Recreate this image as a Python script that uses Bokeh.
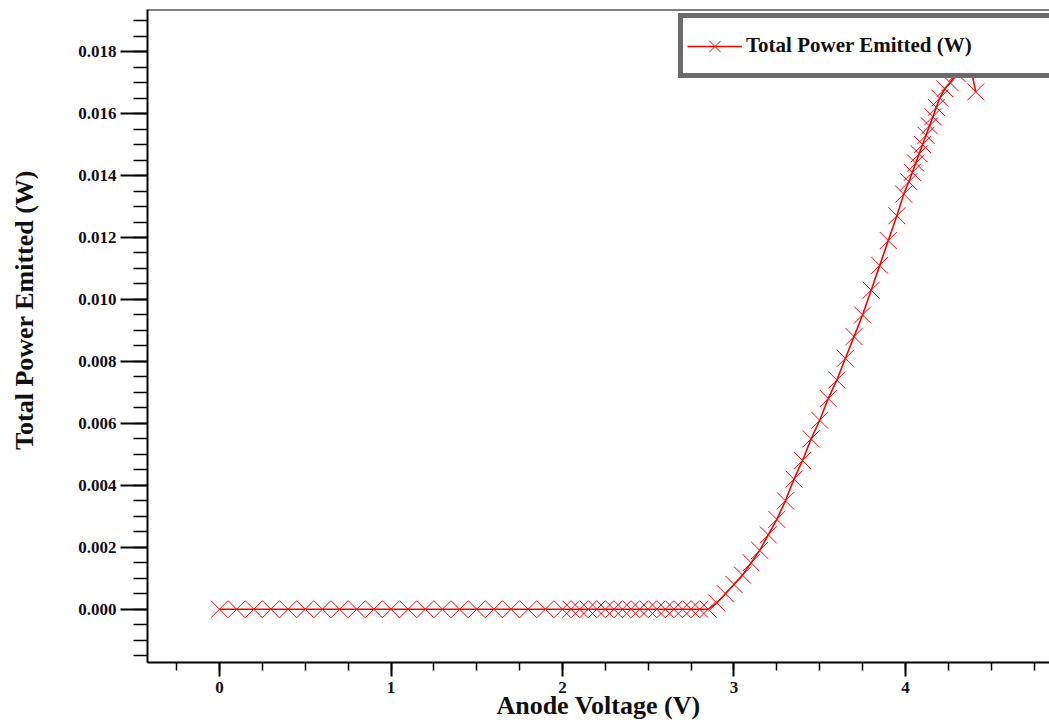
from bokeh.plotting import figure
from bokeh.models import Range1d, Span, Legend, LegendItem, FixedTicker, NumeralTickFormatter, ColumnDataSource
from bokeh.embed import file_html
from bokeh.resources import INLINE

# ---- data ----
voltage_flat = [0.0, 0.1, 0.2, 0.3, 0.4, 0.5, 0.6, 0.7, 0.8, 0.9, 1.0,
                1.1, 1.2, 1.3, 1.4, 1.5, 1.6, 1.7, 1.8, 1.9, 2.0,
                2.05, 2.1, 2.15, 2.2, 2.25, 2.3, 2.35, 2.4, 2.45, 2.5,
                2.55, 2.6, 2.65, 2.7, 2.75, 2.8, 2.85]
power_flat = [0.0] * len(voltage_flat)

voltage_rise = [2.9, 2.95, 3.0, 3.05, 3.1, 3.15, 3.2, 3.25, 3.3, 3.35, 3.4,
                3.45, 3.5, 3.55, 3.6, 3.65, 3.7, 3.75, 3.8, 3.85, 3.9, 3.95,
                3.99, 4.02, 4.04, 4.06, 4.08, 4.1, 4.12, 4.14, 4.16, 4.18,
                4.2, 4.23, 4.26, 4.3, 4.34, 4.38, 4.41]
power_rise = [0.0002, 0.0005, 0.0008, 0.0011, 0.0015, 0.0019, 0.0024, 0.0029,
              0.0035, 0.0042, 0.0048, 0.0055, 0.0061, 0.0068, 0.0074, 0.0081,
              0.0088, 0.0095, 0.0103, 0.0111, 0.0119, 0.0127, 0.0134, 0.0138,
              0.0141, 0.0144, 0.0147, 0.0150, 0.0153, 0.0156, 0.0159, 0.0162,
              0.0165, 0.0168, 0.0170, 0.0173, 0.0175, 0.0175, 0.0167]

anode_voltage = voltage_flat + voltage_rise
total_power = power_flat + power_rise

x_ticks = [0, 1, 2, 3, 4]
y_ticks = [0.000, 0.002, 0.004, 0.006, 0.008, 0.010, 0.012, 0.014, 0.016, 0.018]

series_name = "Total Power Emitted (W)"
x_title = "Anode Voltage (V)"
y_title = "Total Power Emitted (W)"

FONT = "Liberation Serif"
RED = "#ff0000"

X0, X1 = -0.42, 4.84
Y0, Y1 = -0.00172, 0.01936

p = figure(width=1049, height=726, output_backend="svg", toolbar_location=None,
           x_range=Range1d(X0, X1), y_range=Range1d(Y0, Y1),
           min_border_left=147, min_border_right=0, min_border_top=9, min_border_bottom=64,
           background_fill_color="white", border_fill_color="white")
p.outline_line_color = None
p.grid.visible = False

# axes styling
for ax in (p.xaxis[0], p.yaxis[0]):
    ax.axis_line_color = "black"
    ax.axis_line_width = 2
    ax.major_tick_line_color = "black"
    ax.major_tick_line_width = 2
    ax.minor_tick_line_color = "black"
    ax.minor_tick_line_width = 1.5
    ax.major_tick_in = 0
    ax.minor_tick_in = 0
    ax.major_label_text_font = FONT
    ax.major_label_text_font_style = "bold"
    ax.major_label_text_font_size = "17px"
    ax.major_label_text_color = "#111122"
    ax.axis_label_text_font = FONT
    ax.axis_label_text_font_style = "bold"
    ax.axis_label_text_font_size = "26px"
    ax.axis_label_text_color = "#111111"

xa = p.xaxis[0]
xa.ticker = FixedTicker(ticks=x_ticks, minor_ticks=[v / 4 for v in range(-1, 20)])
xa.major_tick_out = 14
xa.minor_tick_out = 8
xa.major_label_standoff = 5
xa.axis_label = x_title
xa.axis_label_standoff = -5

ya = p.yaxis[0]
ya.ticker = FixedTicker(ticks=y_ticks, minor_ticks=[v * 0.0005 for v in range(-3, 39)])
ya.formatter = NumeralTickFormatter(format="0.000")
ya.major_tick_out = 27
ya.minor_tick_out = 14
ya.major_label_standoff = 4
# leading no-break spaces shift the centred title up, as in the reference
ya.axis_label = "\u00a0" * 8 + y_title
ya.axis_label_standoff = 36

# top border line
p.add_layout(Span(location=Y1, dimension="width", line_color="black", line_width=2))

src = ColumnDataSource(data=dict(v=anode_voltage, pw=total_power))

ln = p.line("v", "pw", source=src, line_color=RED, line_width=1.6)
sc = p.scatter("v", "pw", source=src, marker="x", size=24,
               line_color=RED, line_alpha=1.0, line_width=1)

legend = Legend(items=[LegendItem(label=series_name, renderers=[ln, sc])],
                location=(531, 584), padding=4, spacing=0,
                glyph_width=55, glyph_height=40, label_height=47, label_width=303,
                label_standoff=4,
                label_text_font=FONT, label_text_font_style="bold",
                label_text_font_size="21px", label_text_color="#111111",
                border_line_color="#6b6b6b", border_line_width=5, border_line_alpha=1,
                background_fill_color="white", background_fill_alpha=1)
p.add_layout(legend)

open("out.html", "w").write(file_html(p, INLINE))
